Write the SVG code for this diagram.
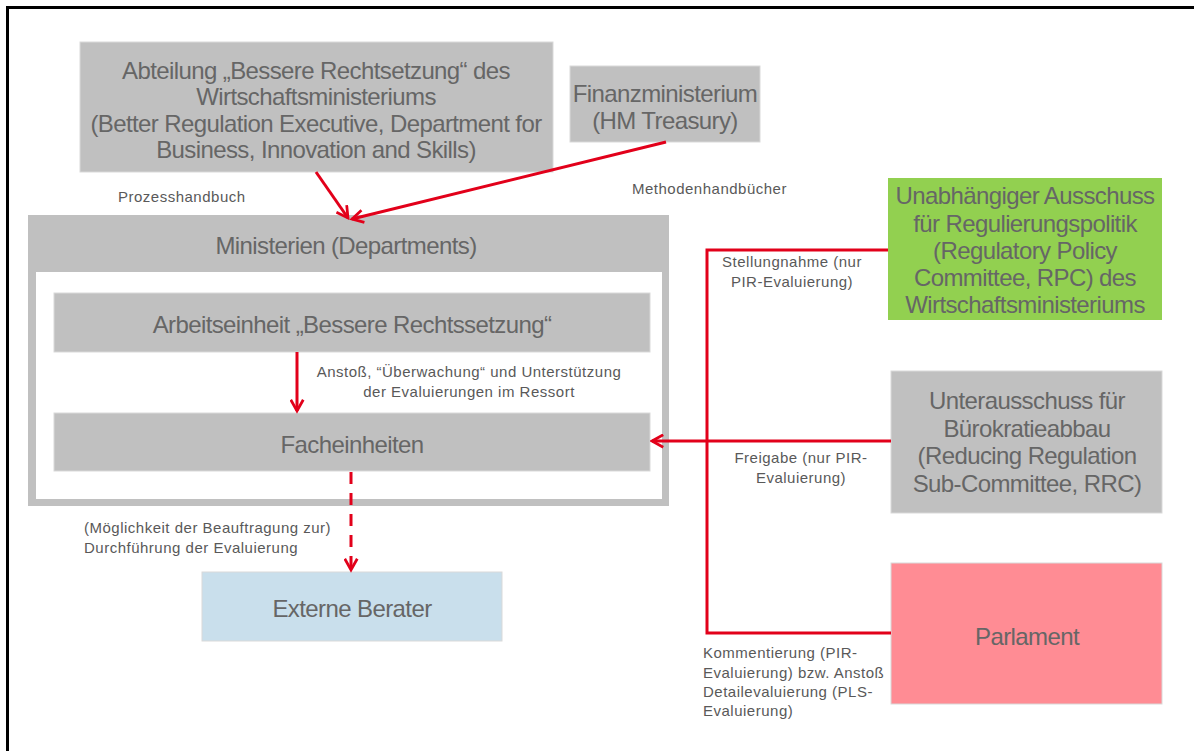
<svg xmlns="http://www.w3.org/2000/svg" width="1194" height="751" viewBox="0 0 1194 751">
<style>
.box{fill:#c0c0c0;stroke:#d9d9d9;stroke-width:1}
.t{font-family:"Liberation Sans",Arial,sans-serif;font-size:24px;fill:#666;text-anchor:middle;letter-spacing:-0.6px}
.l{font-family:"Liberation Sans",Arial,sans-serif;font-size:15px;fill:#595959;letter-spacing:0.5px}
.c{stroke:#e2001a;stroke-width:3;fill:none}
</style>
<defs>
<marker id="ah" viewBox="0 0 12 12" refX="10" refY="6" markerWidth="5" markerHeight="5" markerUnits="strokeWidth" orient="auto">
<path d="M1,1 L10,6 L1,11" fill="none" stroke="#e2001a" stroke-width="2.2"/>
</marker>
</defs>
<rect width="1194" height="751" fill="#fff"/>
<path d="M7.5,751 V7.5 H1194" fill="none" stroke="#000" stroke-width="3"/>

<g id="abteilung">
<rect class="box" x="80" y="42" width="473" height="130"/>
<text class="t" x="316" y="79">Abteilung „Bessere Rechtsetzung“ des</text>
<text class="t" x="316" y="105">Wirtschaftsministeriums</text>
<text class="t" x="316" y="132">(Better Regulation Executive, Department for</text>
<text class="t" x="316" y="158">Business, Innovation and Skills)</text>
</g>

<g id="finanzministerium">
<rect class="box" x="570" y="66" width="190" height="76"/>
<text class="t" x="665" y="102">Finanzministerium</text>
<text class="t" x="665" y="129">(HM Treasury)</text>
</g>

<g id="ministerien">
<rect x="28" y="215" width="641" height="291" fill="#c0c0c0"/>
<rect x="36" y="272" width="626" height="227" fill="#fff"/>
<text class="t" x="346" y="254">Ministerien (Departments)</text>
</g>

<g id="arbeitseinheit">
<rect class="box" x="54" y="293" width="596" height="59"/>
<text class="t" x="352" y="333">Arbeitseinheit „Bessere Rechtssetzung“</text>
</g>

<g id="facheinheiten">
<rect class="box" x="54" y="413" width="596" height="58"/>
<text class="t" x="352" y="453">Facheinheiten</text>
</g>

<g id="externe-berater">
<rect x="202" y="572" width="300" height="69" fill="#c9dfec" stroke="#d9d9d9"/>
<text class="t" x="352" y="617">Externe Berater</text>
</g>

<g id="rpc">
<rect x="888" y="178" width="274" height="142" fill="#92d050"/>
<text class="t" x="1025" y="204">Unabhängiger Ausschuss</text>
<text class="t" x="1025" y="232">für Regulierungspolitik</text>
<text class="t" x="1025" y="259">(Regulatory Policy</text>
<text class="t" x="1025" y="286">Committee, RPC) des</text>
<text class="t" x="1025" y="313">Wirtschaftsministeriums</text>
</g>

<g id="rrc">
<rect class="box" x="891" y="371" width="271" height="142"/>
<text class="t" x="1027" y="409">Unterausschuss für</text>
<text class="t" x="1027" y="437">Bürokratieabbau</text>
<text class="t" x="1027" y="464">(Reducing Regulation</text>
<text class="t" x="1027" y="492">Sub-Committee, RRC)</text>
</g>

<g id="parlament">
<rect x="891" y="563" width="271" height="141" fill="#ff8c94" stroke="#d9d9d9"/>
<text class="t" x="1027" y="645">Parlament</text>
</g>

<g id="connectors">
<line class="c" x1="316" y1="172" x2="348" y2="218" marker-end="url(#ah)"/>
<line class="c" x1="666" y1="142" x2="352" y2="219" marker-end="url(#ah)"/>
<line class="c" x1="297" y1="352" x2="297" y2="411" marker-end="url(#ah)"/>
<line class="c" x1="351" y1="472" x2="351" y2="570" stroke-dasharray="12,9" marker-end="url(#ah)"/>
<polyline class="c" points="888,250 707,250 707,633 891,633"/>
<line class="c" x1="891" y1="441" x2="652" y2="441" marker-end="url(#ah)"/>
</g>

<g id="labels">
<text class="l" x="118" y="202">Prozesshandbuch</text>
<text class="l" x="632" y="194">Methodenhandbücher</text>
<text class="l" x="469" y="377" text-anchor="middle">Anstoß, “Überwachung“ und Unterstützung</text>
<text class="l" x="469" y="397" text-anchor="middle">der Evaluierungen im Ressort</text>
<text class="l" x="84" y="533">(Möglichkeit der Beauftragung zur)</text>
<text class="l" x="84" y="553">Durchführung der Evaluierung</text>
<text class="l" x="792" y="267" text-anchor="middle">Stellungnahme (nur</text>
<text class="l" x="792" y="287" text-anchor="middle">PIR-Evaluierung)</text>
<text class="l" x="801" y="463" text-anchor="middle">Freigabe (nur PIR-</text>
<text class="l" x="801" y="483" text-anchor="middle">Evaluierung)</text>
<text class="l" x="703" y="658">Kommentierung (PIR-</text>
<text class="l" x="703" y="678">Evaluierung) bzw. Anstoß</text>
<text class="l" x="703" y="697">Detailevaluierung (PLS-</text>
<text class="l" x="703" y="716">Evaluierung)</text>
</g>
</svg>
